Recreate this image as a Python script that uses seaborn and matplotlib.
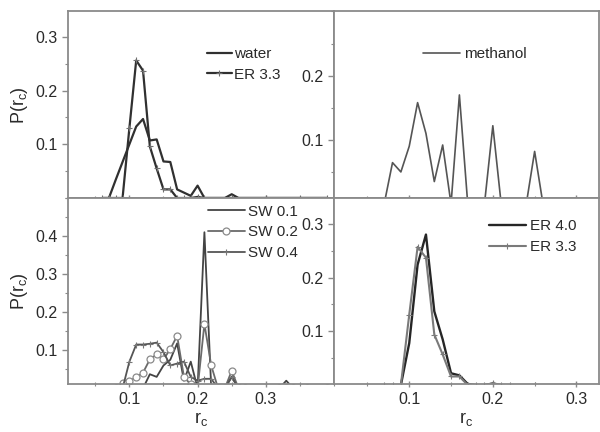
import numpy as np
import pandas as pd
import matplotlib
matplotlib.use("Agg")
import matplotlib.pyplot as plt
import seaborn as sns
from matplotlib.ticker import MultipleLocator

sns.set_style("ticks")
plt.rcParams['font.family'] = ['Liberation Sans', 'DejaVu Sans']

# ---------------- data ----------------
# top-left: water / ER 3.3
x_water = [0.06, 0.07, 0.08, 0.09, 0.10, 0.11, 0.12, 0.13, 0.14, 0.15, 0.16, 0.17, 0.18, 0.19, 0.20, 0.21, 0.22, 0.23, 0.24, 0.25, 0.26, 0.27, 0.30, 0.35, 0.39]
y_water = [0.0, 0.0, 0.034, 0.067, 0.100, 0.133, 0.147, 0.107, 0.109, 0.068, 0.067, 0.016, 0.010, 0.004, 0.023, 0.0, 0.0, 0.0, 0.0, 0.007, 0.0, 0.0, 0.0, 0.0, 0.0]
x_er33 = [0.06, 0.07, 0.08, 0.09, 0.10, 0.11, 0.12, 0.13, 0.14, 0.15, 0.16, 0.17, 0.18, 0.19, 0.20, 0.21, 0.25, 0.30, 0.35, 0.39]
y_er33 = [0.0, 0.0, 0.0, 0.0, 0.130, 0.256, 0.237, 0.096, 0.055, 0.016, 0.016, 0.0, 0.0, 0.0, 0.002, 0.0, 0.0, 0.0, 0.0, 0.0]

# top-right: methanol
x_meth = [0.06, 0.07, 0.08, 0.09, 0.10, 0.11, 0.12, 0.13, 0.14, 0.15, 0.16, 0.17, 0.18, 0.19, 0.20, 0.21, 0.22, 0.23, 0.24, 0.25, 0.26, 0.27]
y_meth = [0.0, 0.0, 0.0645, 0.050, 0.090, 0.158, 0.110, 0.035, 0.092, 0.0, 0.170, 0.0, 0.0, 0.0, 0.122, 0.0, 0.0, 0.0, 0.0, 0.082, 0.0, 0.0]

# bottom-left: SW 0.1 / 0.2 / 0.4
x_sw = [0.08, 0.09, 0.10, 0.11, 0.12, 0.13, 0.14, 0.15, 0.16, 0.17, 0.18, 0.19, 0.20, 0.21, 0.22, 0.23, 0.24, 0.25, 0.26, 0.27, 0.30, 0.32, 0.33, 0.34, 0.36, 0.39]
y_sw01 = [0.0, 0.0, 0.0, 0.0, 0.0, 0.037, 0.030, 0.060, 0.075, 0.118, 0.020, 0.070, 0.0, 0.410, 0.0, 0.0, 0.0, 0.030, 0.0, 0.0, 0.0, 0.0, 0.020, 0.0, 0.0, 0.0]
y_sw02 = [0.0, 0.013, 0.019, 0.029, 0.041, 0.076, 0.089, 0.076, 0.103, 0.138, 0.030, 0.010, 0.0, 0.169, 0.060, 0.0, 0.0, 0.046, 0.0, 0.0, 0.0, 0.0, 0.0, 0.0, 0.0, 0.0]
y_sw04 = [0.0, 0.0, 0.070, 0.115, 0.115, 0.117, 0.120, 0.095, 0.060, 0.065, 0.070, 0.030, 0.020, 0.025, 0.025, 0.0, 0.0, 0.030, 0.0, 0.0, 0.0, 0.0, 0.0, 0.0, 0.0, 0.0]

# bottom-right: ER 4.0 / ER 3.3
x_er = [0.07, 0.08, 0.09, 0.10, 0.11, 0.12, 0.13, 0.14, 0.15, 0.16, 0.17, 0.18, 0.19, 0.20, 0.21, 0.22, 0.25, 0.30, 0.33]
y_er40 = [0.0, 0.0, 0.0, 0.078, 0.224, 0.280, 0.137, 0.085, 0.022, 0.018, 0.002, 0.0, 0.0, 0.003, 0.0, 0.0, 0.0, 0.0, 0.0]
y_er33b = [0.0, 0.0, 0.0, 0.131, 0.257, 0.237, 0.094, 0.057, 0.016, 0.016, 0.0, 0.0, 0.0, 0.003, 0.0, 0.0, 0.0, 0.0, 0.0]

xticks = [0.1, 0.2, 0.3]

# ---------------- figure ----------------
W, H = 600, 432
fig = plt.figure(figsize=(6.0, 4.32), dpi=100)

def ax_at(x0, y0, x1, y1):
    return fig.add_axes([x0 / W, 1 - y1 / H, (x1 - x0) / W, (y1 - y0) / H])

ax_tl = ax_at(68, 11.5, 334, 198)
ax_tr = ax_at(334, 11.5, 599, 198)
ax_bl = ax_at(68, 198, 334, 384)
ax_br = ax_at(334, 198, 599, 384)

spine_c = '#8a8a8a'
txt_c = '#2a2a2a'
fs = 11.5
lfs = 11

for ax in (ax_tl, ax_tr, ax_bl, ax_br):
    ax.set_facecolor('white')
    for s in ax.spines.values():
        s.set_color(spine_c)
        s.set_linewidth(1.3)
        s.set_visible(True)
    ax.tick_params(axis='both', which='both', colors=spine_c, labelcolor=txt_c, labelsize=fs)
    ax.tick_params(axis='x', which='major', direction='inout', length=5, width=1)
    ax.tick_params(axis='x', which='minor', direction='inout', length=3, width=0.8)
    ax.tick_params(axis='y', which='major', direction='out', length=4, width=1)
    ax.tick_params(axis='y', which='minor', direction='out', length=2.5, width=0.8)
    ax.xaxis.set_minor_locator(MultipleLocator(0.05))
    ax.yaxis.set_minor_locator(MultipleLocator(0.05))
    ax.set_xticks(xticks)

ms = 4.5
# top-left
sns.lineplot(x=x_water, y=y_water, ax=ax_tl, color='#303030', lw=1.6, label='water', sort=False)
sns.lineplot(x=x_er33, y=y_er33, ax=ax_tl, color='#303030', lw=1.6, marker='+', markersize=ms,
             markeredgewidth=0.8, markeredgecolor='#707070', label='ER 3.3', sort=False)
ax_tl.set_xlim(0.01, 0.40)
ax_tl.set_ylim(0.0, 0.347)
ax_tl.set_yticks([0.1, 0.2, 0.3])
ax_tl.set_xticklabels([])

# top-right
sns.lineplot(x=x_meth, y=y_meth, ax=ax_tr, color='#555555', lw=1.2, label='methanol', sort=False)
ax_tr.set_xlim(0.01, 0.327)
ax_tr.set_ylim(0.0094, 0.30)
ax_tr.set_yticks([0.1, 0.2])
ax_tr.set_xticklabels([])

# bottom-left
sns.lineplot(x=x_sw, y=y_sw01, ax=ax_bl, color='#444444', lw=1.3, label='SW 0.1', sort=False)
sns.lineplot(x=x_sw, y=y_sw02, ax=ax_bl, color='#6a6a6a', lw=1.3, marker='o', markersize=5,
             markerfacecolor='white', markeredgecolor='#8a8a8a', markeredgewidth=0.9,
             label='SW 0.2', sort=False)
sns.lineplot(x=x_sw, y=y_sw04, ax=ax_bl, color='#555555', lw=1.3, marker='+', markersize=ms,
             markeredgewidth=0.8, markeredgecolor='#777777', label='SW 0.4', sort=False)
ax_bl.set_xlim(0.01, 0.40)
ax_bl.set_ylim(0.0113, 0.50)
ax_bl.set_yticks([0.1, 0.2, 0.3, 0.4])

# bottom-right
sns.lineplot(x=x_er, y=y_er40, ax=ax_br, color='#262626', lw=1.7, label='ER 4.0', sort=False)
sns.lineplot(x=x_er, y=y_er33b, ax=ax_br, color='#7a7a7a', lw=1.5, marker='+', markersize=ms,
             markeredgewidth=0.8, markeredgecolor='#7a7a7a', label='ER 3.3', sort=False)
ax_br.set_xlim(0.01, 0.327)
ax_br.set_ylim(0.002, 0.348)
ax_br.set_yticks([0.1, 0.2, 0.3])

ylab = 'P(r$_\\mathregular{c}$)'
xlab = 'r$_\\mathregular{c}$'
for ax in (ax_tl, ax_bl):
    ax.set_ylabel(ylab, fontsize=13, color=txt_c, labelpad=4)
for ax in (ax_tr, ax_br):
    ax.set_ylabel('')
for ax in (ax_bl, ax_br):
    ax.set_xlabel(xlab, fontsize=13, color=txt_c, labelpad=2)
for ax in (ax_tl, ax_tr):
    ax.set_xlabel('')

def leg(ax, x, y, hl, sp, tp):
    lg = ax.legend(loc='upper left', bbox_to_anchor=(x, y), frameon=False, fontsize=lfs,
                   borderpad=0, borderaxespad=0, handlelength=hl, labelspacing=sp,
                   handletextpad=tp)
    for t in lg.get_texts():
        t.set_color(txt_c)
    return lg

leg(ax_tl, 0.523, 0.81, 1.6, 0.45, 0.15)
leg(ax_tr, 0.336, 0.81, 2.4, 0.45, 0.3)
leg(ax_bl, 0.526, 0.965, 2.4, 0.45, 0.25)
leg(ax_br, 0.585, 0.885, 2.4, 0.45, 0.3)

fig.savefig('out.png', dpi=100)
